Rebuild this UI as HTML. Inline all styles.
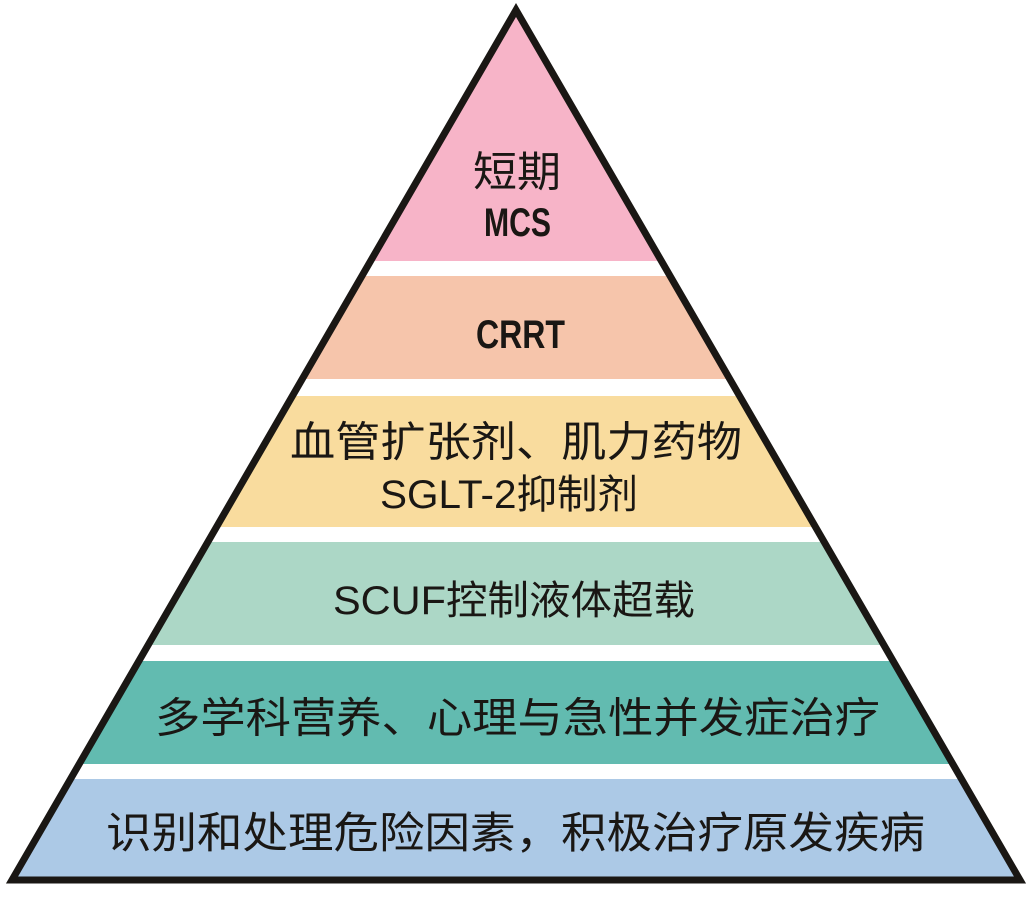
<!DOCTYPE html>
<html><head><meta charset="utf-8"><style>
html,body{margin:0;padding:0;background:#fff;}
svg{display:block}
text{font-family:"Liberation Sans Narrow","Liberation Sans","Noto Sans CJK SC",sans-serif;fill:#1a1714;dominant-baseline:central;}
.c{font-family:"Liberation Sans","Noto Sans CJK SC",sans-serif;}
</style></head><body>
<svg width="1033" height="897" viewBox="0 0 1033 897" xmlns="http://www.w3.org/2000/svg">
<defs><clipPath id="t"><polygon points="516,10 12,880 1020,880"/></clipPath></defs>
<g clip-path="url(#t)">
<rect x="0" y="0" width="1033" height="261" fill="#f7b4c8"/>
<rect x="0" y="276" width="1033" height="103" fill="#f6c5ab"/>
<rect x="0" y="396" width="1033" height="131" fill="#f9dc9e"/>
<rect x="0" y="542" width="1033" height="103" fill="#acd7c6"/>
<rect x="0" y="661" width="1033" height="103" fill="#62bbb0"/>
<rect x="0" y="779" width="1033" height="102" fill="#acc9e6"/>
</g>
<polygon points="516,10 12,880 1020,880" fill="none" stroke="#1a1714" stroke-width="7" stroke-linejoin="miter"/>
<text class="c" x="473" y="172" font-size="42" textLength="88" lengthAdjust="spacingAndGlyphs">短期</text>
<text x="484" y="223" font-size="40" font-weight="bold" textLength="67" lengthAdjust="spacingAndGlyphs">MCS</text>
<text x="476" y="335" font-size="40" font-weight="bold" textLength="89" lengthAdjust="spacingAndGlyphs">CRRT</text>
<text class="c" x="290" y="442" font-size="42" textLength="452" lengthAdjust="spacingAndGlyphs">血管扩张剂、肌力药物</text>
<text class="c" x="380" y="495" font-size="40" textLength="258" lengthAdjust="spacingAndGlyphs">SGLT-2抑制剂</text>
<text class="c" x="333" y="601" font-size="40" textLength="362" lengthAdjust="spacingAndGlyphs">SCUF控制液体超载</text>
<text class="c" x="155" y="718" font-size="42" textLength="725" lengthAdjust="spacingAndGlyphs">多学科营养、心理与急性并发症治疗</text>
<text class="c" x="106" y="834" font-size="43" textLength="819" lengthAdjust="spacingAndGlyphs">识别和处理危险因素，积极治疗原发疾病</text>
</svg>
</body></html>
